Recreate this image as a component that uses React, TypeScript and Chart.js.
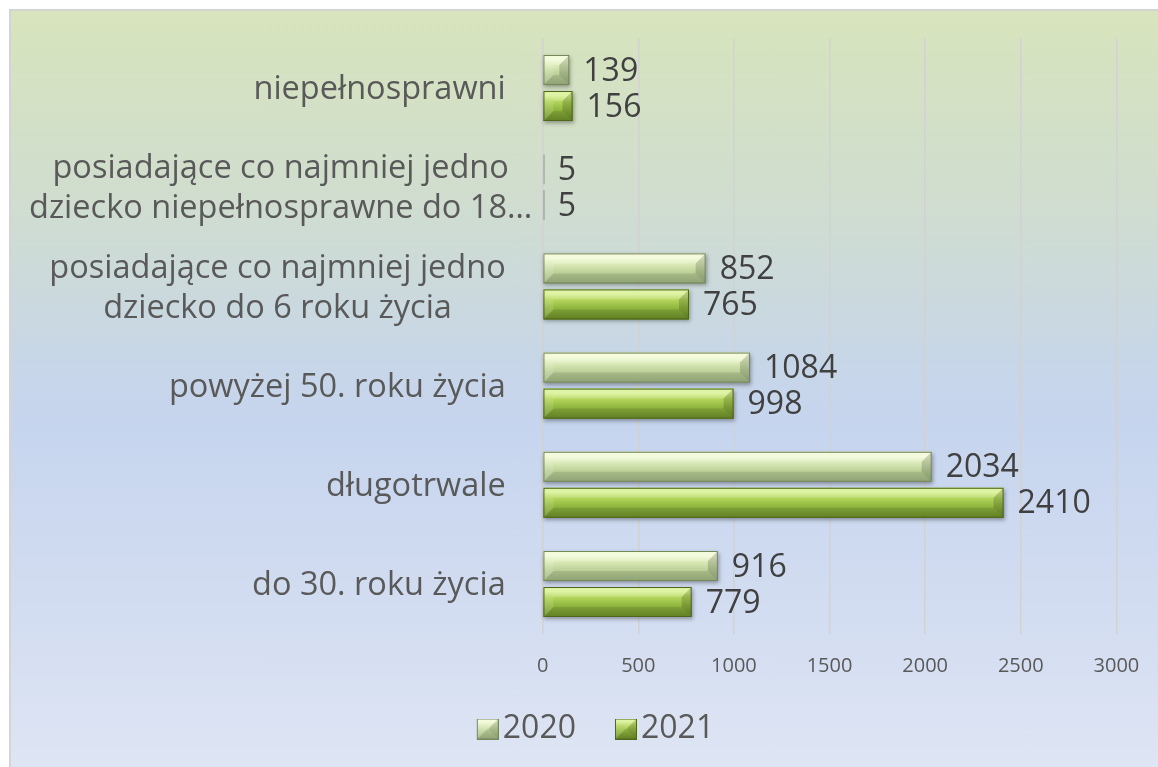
import React, { useEffect, useRef } from "react";
import { Chart, registerables } from "chart.js";

Chart.register(...registerables);

// ---------- data ----------
const categories: (string | string[])[] = [
  "do 30. roku życia",
  "długotrwale",
  "powyżej 50. roku życia",
  ["posiadające co najmniej jedno", "dziecko do 6 roku życia"],
  ["posiadające co najmniej jedno", "dziecko niepełnosprawne do 18…"],
  "niepełnosprawni",
];
const seriesNames = ["2020", "2021"];
const values2020 = [916, 2034, 1084, 852, 5, 139];
const values2021 = [779, 2410, 998, 765, 5, 156];
const xTicks = [0, 500, 1000, 1500, 2000, 2500, 3000];

// ---------- styles ----------
const FONT = '"Open Sans", "DejaVu Sans", sans-serif';
const PAL = [
  { hi: "#f2fbd8", top: "#dcebb9", mid: "#c0d49c", low: "#9fb582", edge: "#76875c" },
  { hi: "#d9f294", top: "#b3d55a", mid: "#93b941", low: "#6c8e28", edge: "#4f681c" },
];

function drawBevel(ctx: CanvasRenderingContext2D, x0: number, y0: number, x1: number, y1: number, pal: any, shadow: boolean) {
  const w = x1 - x0;
  const h = y1 - y0;
  if (w < 3) {
    ctx.save();
    ctx.fillStyle = "rgba(140,140,140,0.7)";
    ctx.fillRect(x0, y0, Math.max(w, 1.2), h);
    ctx.restore();
    return;
  }
  ctx.save();
  if (shadow) {
    ctx.shadowColor = "rgba(0,0,0,0.35)";
    ctx.shadowBlur = 4;
    ctx.shadowOffsetX = 1;
    ctx.shadowOffsetY = 2;
  }
  const g = ctx.createLinearGradient(0, y0, 0, y1);
  g.addColorStop(0, pal.hi);
  g.addColorStop(0.15, pal.hi);
  g.addColorStop(0.35, pal.top);
  g.addColorStop(0.6, pal.mid);
  g.addColorStop(1, pal.low);
  ctx.fillStyle = g;
  ctx.fillRect(x0, y0, w, h);
  ctx.restore();

  const b = Math.min(10, w / 2, h / 2);
  ctx.save();
  // top facet
  ctx.beginPath();
  ctx.moveTo(x0, y0); ctx.lineTo(x1, y0); ctx.lineTo(x1 - b, y0 + b); ctx.lineTo(x0 + b, y0 + b); ctx.closePath();
  ctx.fillStyle = "rgba(255,255,255,0.15)";
  ctx.fill();
  // bottom facet
  ctx.beginPath();
  ctx.moveTo(x0, y1); ctx.lineTo(x1, y1); ctx.lineTo(x1 - b, y1 - b); ctx.lineTo(x0 + b, y1 - b); ctx.closePath();
  ctx.fillStyle = "rgba(0,0,0,0.10)";
  ctx.fill();
  // left facet
  ctx.beginPath();
  ctx.moveTo(x0, y0); ctx.lineTo(x0 + b, y0 + b); ctx.lineTo(x0 + b, y1 - b); ctx.lineTo(x0, y1); ctx.closePath();
  ctx.fillStyle = "rgba(255,255,255,0.12)";
  ctx.fill();
  // right facet
  ctx.beginPath();
  ctx.moveTo(x1, y0); ctx.lineTo(x1 - b, y0 + b); ctx.lineTo(x1 - b, y1 - b); ctx.lineTo(x1, y1); ctx.closePath();
  ctx.fillStyle = "rgba(0,0,0,0.16)";
  ctx.fill();
  // outline
  ctx.strokeStyle = pal.edge;
  ctx.lineWidth = 1;
  ctx.strokeRect(x0 + 0.5, y0 + 0.5, w - 1, h - 1);
  ctx.restore();
}

// legend swatch image: transparent margin on the left so the swatch sits close to the text
function makeSwatch(pal: any): HTMLCanvasElement {
  const c = document.createElement("canvas");
  c.width = 34;
  c.height = 21;
  const cx = c.getContext("2d")!;
  drawBevel(cx, 12, 0, 34, 21, pal, false);
  return c;
}

const barsPlugin = {
  id: "bevelBars",
  afterDatasetsDraw(chart: any) {
    const ctx = chart.ctx as CanvasRenderingContext2D;
    chart.data.datasets.forEach((ds: any, di: number) => {
      const meta = chart.getDatasetMeta(di);
      meta.data.forEach((el: any) => {
        const p = el.getProps(["x", "y", "base", "height"], true);
        drawBevel(ctx, Math.min(p.base, p.x), p.y - p.height / 2, Math.max(p.base, p.x), p.y + p.height / 2, PAL[di], true);
      });
    });
    ctx.save();
    ctx.font = `32px ${FONT}`;
    ctx.fillStyle = "#404040";
    ctx.textAlign = "left";
    ctx.textBaseline = "middle";
    chart.data.datasets.forEach((ds: any, di: number) => {
      const meta = chart.getDatasetMeta(di);
      meta.data.forEach((el: any, i: number) => {
        const p = el.getProps(["x", "y"], true);
        ctx.fillText(String(ds.data[i]), p.x + 14, p.y + 1.5);
      });
    });
    ctx.restore();
  },
};

const yLabelPlugin = {
  id: "yLabels",
  afterDraw(chart: any) {
    const ys = chart.scales.y;
    const ctx = chart.ctx as CanvasRenderingContext2D;
    ctx.save();
    ctx.font = `32.5px ${FONT}`;
    ctx.fillStyle = "#595959";
    ctx.textAlign = "center";
    ctx.textBaseline = "middle";
    const right = chart.chartArea.left - 37;
    (chart.data.labels as (string | string[])[]).forEach((lab, i) => {
      const lines = Array.isArray(lab) ? lab : [lab];
      const widest = Math.max(...lines.map((l) => ctx.measureText(l).width));
      const r = Math.max(right, 18 + widest);
      const cx = r - widest / 2;
      const cy = ys.getPixelForValue(i) + 2;
      lines.forEach((l, k) => ctx.fillText(l, cx, cy + (k - (lines.length - 1) / 2) * 40));
    });
    ctx.restore();
  },
};

export default function App() {
  const ref = useRef<HTMLCanvasElement | null>(null);

  useEffect(() => {
    if (!ref.current) return;
    const swatches = PAL.map((p) => makeSwatch(p));
    const legendPad = 39;
    const padBottom = 12;
    const chart = new Chart(ref.current, {
      type: "bar",
      data: {
        labels: categories as any,
        datasets: [
          { label: seriesNames[0], data: values2020, backgroundColor: PAL[0].mid, borderWidth: 0, categoryPercentage: 0.726, barPercentage: 0.833 },
          { label: seriesNames[1], data: values2021, backgroundColor: PAL[1].mid, borderWidth: 0, categoryPercentage: 0.726, barPercentage: 0.833 },
        ],
      },
      options: {
        indexAxis: "y",
        responsive: false,
        animation: false,
        devicePixelRatio: 1,
        layout: { padding: { top: 27.4, bottom: padBottom, left: 0, right: 0 } },
        scales: {
          x: {
            type: "linear",
            position: "bottom",
            min: 0,
            max: 3000,
            afterBuildTicks: (s: any) => {
              s.ticks = xTicks.map((v) => ({ value: v }));
            },
            ticks: {
              color: "#595959",
              font: { family: FONT, size: 20 },
              padding: 21,
              maxRotation: 0,
              callback: (v: any) => String(v),
            },
            grid: { color: "#d2d2d2", lineWidth: 1.5, drawTicks: false },
            border: { display: false },
            afterFit: (s: any) => {
              s.height = 756 - padBottom - 42 - legendPad - 622.6;
            },
          },
          y: {
            type: "category",
            reverse: true,
            grid: { display: false },
            border: { display: false },
            ticks: { display: false },
            afterFit: (s: any) => {
              s.width = 531.7;
            },
          },
          yR: {
            type: "linear",
            position: "right",
            display: true,
            grid: { display: false },
            border: { display: false },
            ticks: { display: false },
            afterFit: (s: any) => {
              s.width = 63.6;
            },
          },
        },
        plugins: {
          tooltip: { enabled: false },
          legend: {
            position: "bottom",
            labels: {
              usePointStyle: true,
              pointStyleWidth: 10,
              padding: legendPad,
              color: "#595959",
              font: { family: FONT, size: 32 },
              generateLabels: (ch: any) =>
                ch.data.datasets.map((ds: any, i: number) => ({
                  text: ds.label,
                  fillStyle: PAL[i].mid,
                  strokeStyle: PAL[i].edge,
                  lineWidth: 0,
                  pointStyle: swatches[i],
                  hidden: false,
                  datasetIndex: i,
                  fontColor: "#595959",
                })),
            },
          },
        },
      } as any,
      plugins: [barsPlugin, yLabelPlugin],
    });
    return () => chart.destroy();
  }, []);

  return (
    <div
      style={{
        position: "fixed",
        left: 9,
        top: 9,
        width: 1149,
        height: 758,
        boxSizing: "border-box",
        borderLeft: "2px solid #d4d4d4",
        borderTop: "2px solid #d4d4d4",
        overflow: "hidden",
        background:
          "linear-gradient(180deg, #d7e4bc 0%, #d0ddcf 25%, #c7d6e8 47%, #c6d5ee 55%, #d3ddf1 80%, #dee5f4 100%)",
      }}
    >
      <canvas ref={ref} width={1169} height={756} style={{ display: "block", width: 1169, height: 756 }} />
    </div>
  );
}
